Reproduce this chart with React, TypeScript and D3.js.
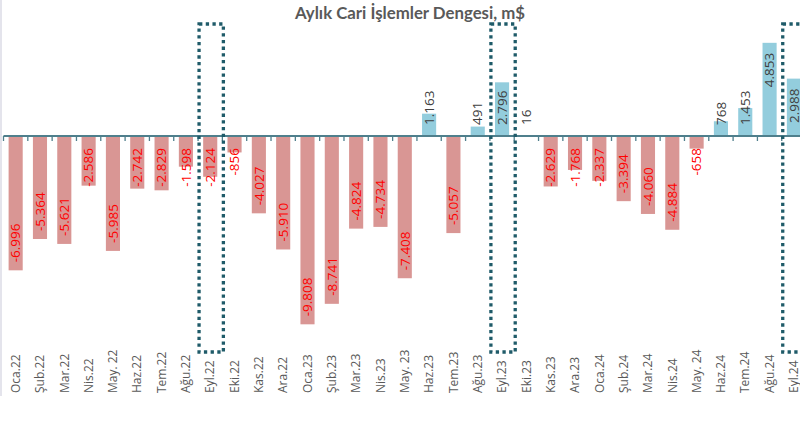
import React, { useEffect, useRef } from 'react'
import * as d3 from 'd3'

// monthly current account balance, million $
const months = [
  'Oca.22', 'Şub.22', 'Mar.22', 'Nis.22', 'May. 22', 'Haz.22', 'Tem.22', 'Ağu.22', 'Eyl.22', 'Eki.22', 'Kas.22', 'Ara.22',
  'Oca.23', 'Şub.23', 'Mar.23', 'Nis.23', 'May. 23', 'Haz.23', 'Tem.23', 'Ağu.23', 'Eyl.23', 'Eki.23', 'Kas.23', 'Ara.23',
  'Oca.24', 'Şub.24', 'Mar.24', 'Nis.24', 'May. 24', 'Haz.24', 'Tem.24', 'Ağu.24', 'Eyl.24'
]
const balance = [
  -6996, -5364, -5621, -2586, -5985, -2742, -2829, -1598, -2124, -856, -4027, -5910,
  -9808, -8741, -4824, -4734, -7408, 1163, -5057, 491, 2796, 16, -2629, -1768,
  -2337, -3394, -4060, -4884, -658, 768, 1453, 4853, 2988
]
// months framed with a dotted box
const highlighted = ['Eyl.22', 'Eyl.23', 'Eyl.24']

const title = 'Aylık Cari İşlemler Dengesi, m$'

const W = 800
const H = 442

// turkish style thousands separator, plain hyphen for the minus
const fmt = (v: number) => d3.format(',')(v).replace(/,/g, '.').replace('−', '-')

export default function App () {
  const ref = useRef<SVGSVGElement>(null)

  useEffect(() => {
    const svg = d3.select(ref.current)
    svg.selectAll('*').remove()

    const x = d3.scaleBand<string>()
      .domain(months)
      .range([3.5, 3.5 + months.length * 24.32])
      .paddingInner(0.42)
      .paddingOuter(0.21)

    const step = x.step()
    const y = d3.scaleLinear()
      .domain([-10000, 6000])
      .range([328, 20.8])
    const y0 = y(0)

    // faint chart border on the left
    svg.append('rect')
      .attr('x', 0).attr('y', 0)
      .attr('width', 2).attr('height', 396)
      .attr('fill', '#e4e4ec')

    svg.append('text')
      .attr('x', 410)
      .attr('y', 19)
      .attr('text-anchor', 'middle')
      .attr('font-family', 'Lato, "Open Sans", sans-serif')
      .attr('font-weight', 'bold')
      .attr('font-size', 16.8)
      .attr('fill', '#595959')
      .text(title)

    // bars
    svg.selectAll('.bar')
      .data(balance)
      .enter()
      .append('rect')
      .attr('class', 'bar')
      .attr('x', (d, i) => x(months[i]))
      .attr('width', x.bandwidth())
      .attr('y', (d) => y(Math.max(0, d)))
      .attr('height', (d) => Math.abs(y(d) - y0))
      .attr('fill', (d) => d < 0 ? '#d99694' : '#93cddd')

    // axis line and ticks between categories
    const bounds = d3.range(months.length + 1).map((i) => 3.5 + i * step)
    svg.append('line')
      .attr('x1', bounds[0]).attr('x2', W)
      .attr('y1', y0).attr('y2', y0)
      .attr('stroke', '#4f7f8c')
      .attr('stroke-width', 2)
    svg.selectAll('.tick')
      .data(bounds)
      .enter()
      .append('line')
      .attr('class', 'tick')
      .attr('x1', (d) => d).attr('x2', (d) => d)
      .attr('y1', y0).attr('y2', y0 + 5)
      .attr('stroke', '#4f7f8c')
      .attr('stroke-width', 1.3)

    // category labels, rotated
    svg.selectAll('.mlabel')
      .data(months)
      .enter()
      .append('text')
      .attr('class', 'mlabel')
      .attr('transform', (d) => `translate(${x(d) + x.bandwidth() / 2},393) rotate(-90)`)
      .attr('dy', '0.35em')
      .attr('font-family', '"Open Sans", sans-serif')
      .attr('font-size', 12)
      .attr('fill', '#595959')
      .text((d) => d)

    // value labels
    const labels = svg.selectAll('.vlabel')
      .data(balance)
      .enter()
      .append('text')
      .attr('class', 'vlabel')
      .attr('dy', '0.35em')
      .attr('font-family', '"Open Sans", sans-serif')
      .attr('font-size', 13.5)
      .attr('fill', (d) => d < 0 ? '#ff0000' : '#404040')
      .text((d) => fmt(d))

    labels.each(function (d, i) {
      const node = this as SVGTextElement
      const len = node.getComputedTextLength()
      const cx = x(months[i]) + x.bandwidth() / 2
      if (d < 0) {
        const bottom = Math.max(y(d) - 8, y0 + 12 + len)
        d3.select(node)
          .attr('text-anchor', 'start')
          .attr('transform', `translate(${cx},${bottom}) rotate(-90)`)
      } else {
        const top = Math.min(y(d) + 10, y0 - 11 - len)
        d3.select(node)
          .attr('text-anchor', 'end')
          .attr('transform', `translate(${cx},${top}) rotate(-90)`)
      }
    })

    // dotted frames around September of each year
    svg.selectAll('.frame')
      .data(highlighted)
      .enter()
      .append('rect')
      .attr('class', 'frame')
      .attr('x', (d) => x(d) - (step - x.bandwidth()) / 2 + 1)
      .attr('width', step)
      .attr('y', 24)
      .attr('height', 328)
      .attr('fill', 'none')
      .attr('stroke', '#1f5b69')
      .attr('stroke-width', 3.3)
      .attr('stroke-dasharray', '3.3 3.4')
  }, [])

  return (
    <svg
      ref={ref}
      width={W}
      height={H}
      style={{ position: 'absolute', left: 0, top: 0, background: '#fff' }}
    />
  )
}
